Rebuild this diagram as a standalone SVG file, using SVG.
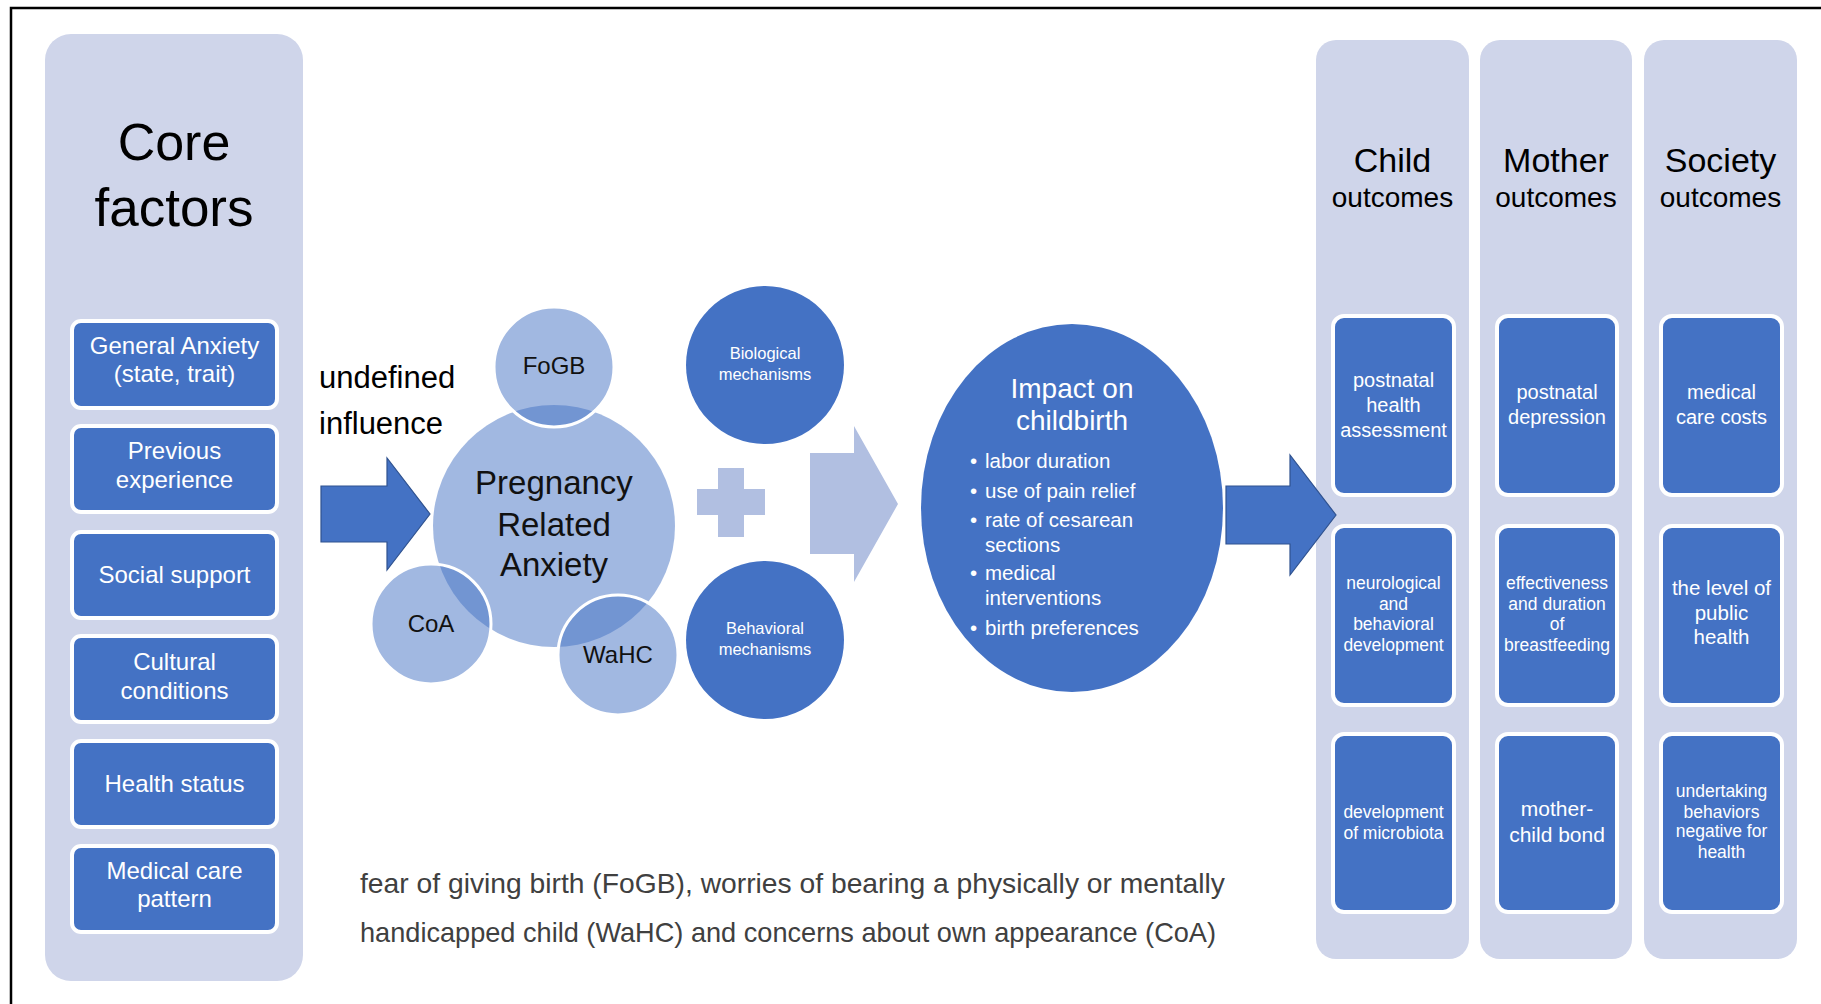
<svg xmlns="http://www.w3.org/2000/svg" width="1821" height="1004" viewBox="0 0 1821 1004">
<style>
text{font-family:"Liberation Sans",Arial,sans-serif;}
.panel{fill:#CFD5EA;}
.box{fill:#4472C4;stroke:#FFFFFF;stroke-width:4;}
.bt{fill:#FFFFFF;text-anchor:middle;}
.cf{font-size:24px;}
.ob{font-size:20px;}
.os{font-size:17.5px;}
.hd{fill:#000;text-anchor:middle;}
.circ{fill:#4472C4;fill-opacity:0.5;}
.sc{fill:#4472C4;fill-opacity:0.5;stroke:#FFFFFF;stroke-width:3;}
.lbl{fill:#111;text-anchor:middle;}
.dark{fill:#4472C4;}
.arr{fill:#4472C4;stroke:#2F528F;stroke-width:1.2;}
.light{fill:#B1BFE1;}
.bul{fill:#FFFFFF;font-size:20.5px;}
.cap{fill:#404040;font-size:28px;}
</style>
<rect x="0" y="0" width="1821" height="1004" fill="#FFFFFF"/>
<path d="M11 1004 V8 H1821" fill="none" stroke="#000" stroke-width="2.5"/>

<g id="core-factors">
<rect class="panel" x="45" y="34" width="258" height="947" rx="26"/>
<text class="hd" x="174" y="160" font-size="52">Core</text>
<text class="hd" x="174" y="226" font-size="53">factors</text>
</g>
<g id="cf-general-anxiety">
<rect class="box" x="72" y="321" width="205" height="87" rx="9"/>
<text class="bt cf" x="174.5" y="354">General Anxiety</text>
<text class="bt cf" x="174.5" y="382">(state, trait)</text>
</g>
<g id="cf-previous-experience">
<rect class="box" x="72" y="426" width="205" height="86" rx="9"/>
<text class="bt cf" x="174.5" y="459">Previous</text>
<text class="bt cf" x="174.5" y="488">experience</text>
</g>
<g id="cf-social-support">
<rect class="box" x="72" y="532" width="205" height="86" rx="9"/>
<text class="bt cf" x="174.5" y="583">Social support</text>
</g>
<g id="cf-cultural-conditions">
<rect class="box" x="72" y="636" width="205" height="86" rx="9"/>
<text class="bt cf" x="174.5" y="670">Cultural</text>
<text class="bt cf" x="174.5" y="699">conditions</text>
</g>
<g id="cf-health-status">
<rect class="box" x="72" y="741" width="205" height="86" rx="9"/>
<text class="bt cf" x="174.5" y="792">Health status</text>
</g>
<g id="cf-medical-care">
<rect class="box" x="72" y="846" width="205" height="86" rx="9"/>
<text class="bt cf" x="174.5" y="879">Medical care</text>
<text class="bt cf" x="174.5" y="907">pattern</text>
</g>

<g id="undefined-influence">
<text x="319" y="388" font-size="31" fill="#000">undefined</text>
<text x="319" y="434" font-size="31" fill="#000">influence</text>
</g>

<g id="pregnancy-related-anxiety">
<circle class="circ" cx="554" cy="526" r="121"/>
<text class="lbl" x="554" y="494" font-size="33">Pregnancy</text>
<text class="lbl" x="554" y="536" font-size="33">Related</text>
<text class="lbl" x="554" y="576" font-size="33">Anxiety</text>
</g>
<g id="fogb">
<circle class="sc" cx="554" cy="367" r="60"/>
<text class="lbl" x="554" y="374" font-size="24">FoGB</text>
</g>
<g id="coa">
<circle class="sc" cx="431" cy="624" r="60"/>
<text class="lbl" x="431" y="632" font-size="24">CoA</text>
</g>
<g id="wahc">
<circle class="sc" cx="618" cy="655" r="60"/>
<text class="lbl" x="618" y="663" font-size="24">WaHC</text>
</g>

<g id="biological-mechanisms">
<circle class="dark" cx="765" cy="365" r="79"/>
<text class="bt" x="765" y="359" font-size="16.5">Biological</text>
<text class="bt" x="765" y="380" font-size="16.5">mechanisms</text>
</g>
<g id="behavioral-mechanisms">
<circle class="dark" cx="765" cy="640" r="79"/>
<text class="bt" x="765" y="634" font-size="16.5">Behavioral</text>
<text class="bt" x="765" y="655" font-size="16.5">mechanisms</text>
</g>

<g id="impact-on-childbirth">
<ellipse class="dark" cx="1072" cy="508" rx="151" ry="184"/>
<text class="bt" x="1072" y="398" font-size="28">Impact on</text>
<text class="bt" x="1072" y="430" font-size="28">childbirth</text>
<g class="bul">
<text x="970" y="468">•</text><text x="985" y="468">labor duration</text>
<text x="970" y="498">•</text><text x="985" y="498">use of pain relief</text>
<text x="970" y="527">•</text><text x="985" y="527">rate of cesarean</text>
<text x="985" y="552">sections</text>
<text x="970" y="580">•</text><text x="985" y="580">medical</text>
<text x="985" y="605">interventions</text>
<text x="970" y="635">•</text><text x="985" y="635">birth preferences</text>
</g>
</g>

<g id="child-outcomes">
<rect class="panel" x="1316" y="40" width="153" height="919" rx="20"/>
<text class="hd" x="1392.5" y="172" font-size="34">Child</text>
<text class="hd" x="1392.5" y="207" font-size="28">outcomes</text>
</g>
<g id="mother-outcomes">
<rect class="panel" x="1480" y="40" width="152" height="919" rx="20"/>
<text class="hd" x="1556" y="172" font-size="34">Mother</text>
<text class="hd" x="1556" y="207" font-size="28">outcomes</text>
</g>
<g id="society-outcomes">
<rect class="panel" x="1644" y="40" width="153" height="919" rx="20"/>
<text class="hd" x="1720.5" y="172" font-size="34">Society</text>
<text class="hd" x="1720.5" y="207" font-size="28">outcomes</text>
</g>

<g id="child-postnatal-health">
<rect class="box" x="1333" y="316" width="121" height="179" rx="11"/>
<text class="bt ob" x="1393.5" y="387">postnatal</text>
<text class="bt ob" x="1393.5" y="412">health</text>
<text class="bt ob" x="1393.5" y="437">assessment</text>
</g>
<g id="child-neuro">
<rect class="box" x="1333" y="526" width="121" height="179" rx="11"/>
<text class="bt os" x="1393.5" y="589">neurological</text>
<text class="bt os" x="1393.5" y="610">and</text>
<text class="bt os" x="1393.5" y="630">behavioral</text>
<text class="bt os" x="1393.5" y="651">development</text>
</g>
<g id="child-microbiota">
<rect class="box" x="1333" y="734" width="121" height="178" rx="11"/>
<text class="bt os" x="1393.5" y="818">development</text>
<text class="bt os" x="1393.5" y="839">of microbiota</text>
</g>

<g id="mother-depression">
<rect class="box" x="1497" y="316" width="120" height="179" rx="11"/>
<text class="bt ob" x="1557" y="399">postnatal</text>
<text class="bt ob" x="1557" y="424">depression</text>
</g>
<g id="mother-breastfeeding">
<rect class="box" x="1497" y="526" width="120" height="179" rx="11"/>
<text class="bt os" x="1557" y="589">effectiveness</text>
<text class="bt os" x="1557" y="610">and duration</text>
<text class="bt os" x="1557" y="630">of</text>
<text class="bt os" x="1557" y="651">breastfeeding</text>
</g>
<g id="mother-bond">
<rect class="box" x="1497" y="734" width="120" height="178" rx="11"/>
<text class="bt" x="1557" y="816" font-size="21">mother-</text>
<text class="bt" x="1557" y="842" font-size="21">child bond</text>
</g>

<g id="society-costs">
<rect class="box" x="1661" y="316" width="121" height="179" rx="11"/>
<text class="bt ob" x="1721.5" y="399">medical</text>
<text class="bt ob" x="1721.5" y="424">care costs</text>
</g>
<g id="society-public-health">
<rect class="box" x="1661" y="526" width="121" height="179" rx="11"/>
<text class="bt" x="1721.5" y="595" font-size="20.5">the level of</text>
<text class="bt" x="1721.5" y="620" font-size="20.5">public</text>
<text class="bt" x="1721.5" y="644" font-size="20.5">health</text>
</g>
<g id="society-behaviors">
<rect class="box" x="1661" y="734" width="121" height="178" rx="11"/>
<text class="bt os" x="1721.5" y="797">undertaking</text>
<text class="bt os" x="1721.5" y="818">behaviors</text>
<text class="bt os" x="1721.5" y="837">negative for</text>
<text class="bt os" x="1721.5" y="858">health</text>
</g>

<g id="connectors">
<path class="arr" d="M321 486 H387 V458 L430 514 L387 570 V542 H321 Z"/>
<path class="light" d="M697 489 H718 V468 H744 V489 H765 V515 H744 V537 H718 V515 H697 Z"/>
<path class="light" d="M810 453 H854 V426 L898 504 L854 582 V554 H810 Z"/>
<path class="arr" d="M1226 486 H1290 V455 L1336 515 L1290 575 V544 H1226 Z"/>
</g>

<g id="caption">
<text class="cap" x="360" y="893" textLength="865" lengthAdjust="spacingAndGlyphs">fear of giving birth (FoGB), worries of bearing a physically or mentally</text>
<text class="cap" x="360" y="942" textLength="856" lengthAdjust="spacingAndGlyphs">handicapped child (WaHC) and concerns about own appearance (CoA)</text>
</g>
</svg>
